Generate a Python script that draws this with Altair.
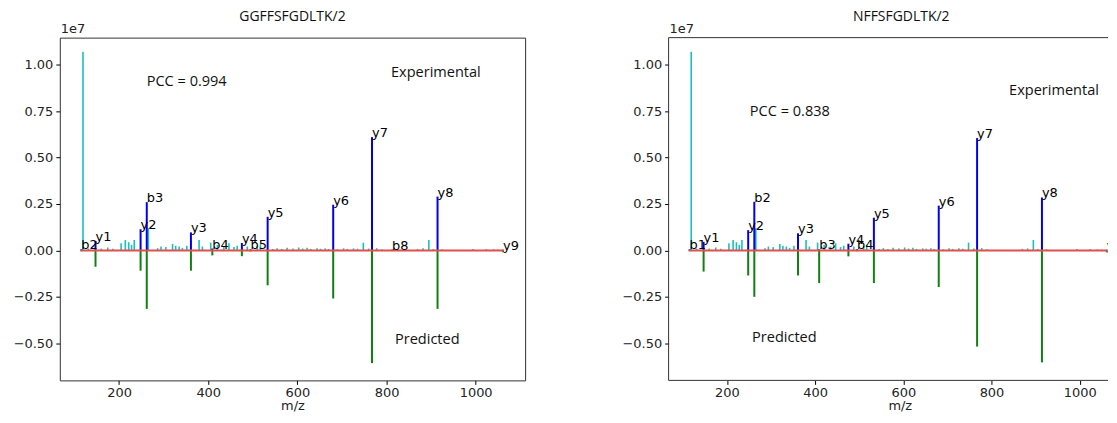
import altair as alt
import pandas as pd

# ---------------- data (intensities in units of 1e7) ----------------
# experimental spectrum peaks not annotated (cyan)
noise_mz = [119, 131, 160, 174.7, 186, 204.5, 214, 221.6, 228, 234, 265.5, 286.5, 294,
            305, 320, 327, 334.8, 342, 352, 379.5, 387, 405.6, 420.5, 435, 446.5,
            457.7, 465, 487.6, 510, 517, 545, 554.6, 565, 577, 590, 603, 612, 621.7,
            630, 644, 652, 662.6, 670, 690, 703.6, 712, 726, 735, 748, 760, 778, 790,
            870, 882, 895, 905, 925, 994, 1024, 1040, 1050]
noise_int = [1.07, 0.010, 0.010, 0.016, 0.009, 0.039, 0.056, 0.044, 0.030, 0.056, 0.120,
             0.012, 0.021, 0.018, 0.035, 0.025, 0.021, 0.014, 0.025, 0.056, 0.021,
             0.042, 0.030, 0.021, 0.039, 0.018, 0.025, 0.021, 0.025, 0.030, 0.008,
             0.012, 0.008, 0.014, 0.010, 0.016, 0.010, 0.014, 0.008, 0.011, 0.009,
             0.011, 0.008, 0.006, 0.011, 0.008, 0.011, 0.009, 0.042, 0.010, 0.012,
             0.006, 0.008, 0.011, 0.056, 0.008, 0.006, 0.007, 0.007, 0.006, 0.005]

# panel 1: GGFFSFGDLTK/2
ions_1 = ["b2", "y1", "y2", "b3", "y3", "b4", "y4", "b5", "y5", "y6", "y7", "b8", "y8", "y9"]
mz_1 = [115.1, 147.1, 248.2, 262.1, 361.2, 409.2, 475.5, 495.0, 533.3, 680.4, 767.4, 812.3, 914.5, 1061.5]
exp_1 = [0.006, 0.050, 0.114, 0.260, 0.097, 0.010, 0.040, 0.006, 0.181, 0.246, 0.610, 0.004, 0.290, 0.004]
pred_1 = [0.005, 0.088, 0.109, 0.315, 0.109, 0.027, 0.031, 0.005, 0.188, 0.259, 0.607, 0.004, 0.315, 0.010]

# panel 2: NFFSFGDLTK/2
ions_2 = ["b1", "y1", "y2", "b2", "y3", "b3", "y4", "b4", "y5", "y6", "y7", "y8", "y9"]
mz_2 = [115.1, 147.1, 248.2, 262.1, 361.2, 409.2, 475.5, 495.0, 533.3, 680.4, 767.4, 914.5, 1061.5]
exp_2 = [0.006, 0.046, 0.109, 0.262, 0.092, 0.006, 0.036, 0.006, 0.176, 0.241, 0.605, 0.285, 0.004]
pred_2 = [0.005, 0.114, 0.135, 0.250, 0.135, 0.176, 0.032, 0.005, 0.176, 0.197, 0.518, 0.603, 0.010]

titles = ["GGFFSFGDLTK/2", "NFFSFGDLTK/2"]
annot_text = [["PCC = 0.994", "Experimental", "Predicted"],
              ["PCC = 0.838", "Experimental", "Predicted"]]
annot_x = [[262, 810, 819], [252, 840, 257]]
annot_y = [[0.905, 0.958, -0.483], [0.747, 0.858, -0.472]]

x_ticks = [200, 400, 600, 800, 1000]
y_ticks = [-0.5, -0.25, 0.0, 0.25, 0.5, 0.75, 1.0]
x_domains = [[67, 1111], [67.7, 1064.3]]   # right panel is cut by the page edge
y_domain = [-0.70, 1.146]
widths = [467, 441]
H = 344

TICK_FONT = "DejaVu Sans"
TEXT_FONT = "Open Sans"


def panel(k, ions, mz, exp_i, pred_i):
    W = widths[k]
    xs = alt.Scale(domain=x_domains[k], nice=False, zero=False)
    ys = alt.Scale(domain=y_domain, nice=False, zero=False)
    xaxis_kw = dict(values=x_ticks, format="d", title="m/z", grid=False, domain=False,
                    tickSize=4, tickColor="black", labelFont=TICK_FONT, labelFontSize=13,
                    labelColor="#222", labelPadding=2, titleFont=TICK_FONT,
                    titleFontSize=13, titleFontWeight="normal", titleColor="#222",
                    titlePadding=0)
    if k == 1:
        xaxis_kw.update(titleX=232, titleAlign="center")
    xaxis = alt.Axis(**xaxis_kw)
    yaxis = alt.Axis(values=y_ticks, format=".2f", title=None, grid=False, domain=False,
                     tickSize=4, tickColor="black", labelFont=TICK_FONT, labelFontSize=13,
                     labelColor="#222", labelPadding=3, minExtent=48, maxExtent=48)

    noise_df = pd.DataFrame({"mz": noise_mz, "i": noise_int, "z": [0.0] * len(noise_mz)})
    ion_df = pd.DataFrame({"ion": ions, "mz": mz, "e": exp_i,
                           "p": [-v for v in pred_i], "z": [0.0] * len(mz)})
    base_df = pd.DataFrame({"a": [min(mz)], "b": [max(mz)], "z": [0.0]})
    ann_df = pd.DataFrame({"t": annot_text[k], "x": annot_x[k], "y": annot_y[k]})

    noise = alt.Chart(noise_df).mark_rule(color="#1cbfbf", strokeWidth=1.6).encode(
        x=alt.X("mz:Q", scale=xs, axis=xaxis),
        y=alt.Y("i:Q", scale=ys, axis=yaxis),
        y2="z:Q")
    exp_r = alt.Chart(ion_df).mark_rule(color="#0000ee", strokeWidth=2).encode(
        x=alt.X("mz:Q", scale=xs), y=alt.Y("e:Q", scale=ys), y2="z:Q")
    pred_r = alt.Chart(ion_df).mark_rule(color="#108010", strokeWidth=2).encode(
        x=alt.X("mz:Q", scale=xs), y=alt.Y("p:Q", scale=ys), y2="z:Q")
    base = alt.Chart(base_df).mark_rule(color="#e0504c", strokeWidth=2).encode(
        x=alt.X("a:Q", scale=xs), x2="b:Q", y=alt.Y("z:Q", scale=ys))
    labels = alt.Chart(ion_df).mark_text(align="left", baseline="alphabetic", clip=True,
                                         font=TICK_FONT, fontSize=13, color="black").encode(
        x=alt.X("mz:Q", scale=xs), y=alt.Y("e:Q", scale=ys), text="ion:N")
    ann = alt.Chart(ann_df).mark_text(align="left", baseline="middle", font=TEXT_FONT,
                                      fontSize=14.6, color="#111").encode(
        x=alt.X("x:Q", scale=xs), y=alt.Y("y:Q", scale=ys), text="t:N")
    expo = alt.Chart(pd.DataFrame({"t": ["1e7"]})).mark_text(
        align="left", baseline="alphabetic", font=TICK_FONT, fontSize=13, color="#222").encode(
        x=alt.value(1), y=alt.value(-5), text="t:N")

    layers = [noise, exp_r, pred_r, base, labels, ann, expo]
    props = dict(width=W, height=H,
                 title=alt.TitleParams(titles[k], font=TEXT_FONT, fontSize=14,
                                       fontWeight="normal", color="#111", offset=-1,
                                       frame="group", anchor="middle",
                                       dx=(13 if k == 1 else 0)))
    if k == 1:
        # the right panel runs off the page edge: draw frame without right side
        fdf = pd.DataFrame({"f": [0]})
        fr = "#333"
        layers += [
            alt.Chart(fdf).mark_rule(color=fr, strokeWidth=1).encode(
                x=alt.value(0), x2=alt.value(W), y=alt.value(0)),
            alt.Chart(fdf).mark_rule(color=fr, strokeWidth=1).encode(
                x=alt.value(0), x2=alt.value(W), y=alt.value(H)),
            alt.Chart(fdf).mark_rule(color=fr, strokeWidth=1).encode(
                x=alt.value(0), y=alt.value(0), y2=alt.value(H)),
        ]
        props["view"] = alt.ViewBackground(stroke="transparent")
    return alt.layer(*layers).properties(**props)


chart = alt.hconcat(
    panel(0, ions_1, mz_1, exp_1, pred_1),
    panel(1, ions_2, mz_2, exp_2, pred_2),
    spacing=94,
).properties(
    padding={"left": 3, "top": 0, "right": 0, "bottom": 0}
).configure_view(
    stroke="#333", strokeWidth=1
)

chart.save("out.html", embed_options={"renderer": "svg", "actions": False})
